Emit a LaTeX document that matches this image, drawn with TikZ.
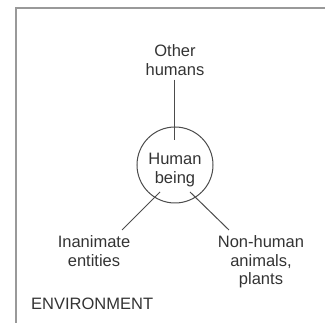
\documentclass[tikz,border=0pt]{standalone}
\usepackage{fontspec}
\setmainfont{Liberation Sans}
\begin{document}
\begin{tikzpicture}[x=1pt,y=-1pt,
  lbl/.style={align=center,inner sep=0pt,text=black!80,font=\fontsize{16.5}{18.5}\selectfont},
  conn/.style={draw=black!70,line width=1pt},
  frame/.style={draw=black!40,line width=1.8pt}]
\useasboundingbox (0,0) rectangle (325,323);
\draw[frame] (325,8) -- (16,8) -- (16,323);
\node[circle,draw=black!70,line width=1pt,minimum size=76pt,inner sep=0pt] (hb) at (175,165) {};
\node[lbl] (hbt) at (175,170) {Human\\being};
\node[lbl] (ot) at (175,60) {Other\\humans};
\node[lbl] (ie) at (94,251) {Inanimate\\entities};
\node[lbl] (nh) at (261,262) {Non-human\\animals,\\plants};
\node[lbl,anchor=west] (env) at (31,304) {ENVIRONMENT};
\coordinate (ct) at (175,140);
\coordinate (cl) at (160,192);
\coordinate (cr) at (190,192);
\coordinate (el) at (122,230);
\coordinate (er) at (229,230);
\draw[conn] ([yshift=-4pt]ot.south) -- (ct);
\draw[conn] (el) -- (cl);
\draw[conn] (er) -- (cr);
\end{tikzpicture}
\end{document}
